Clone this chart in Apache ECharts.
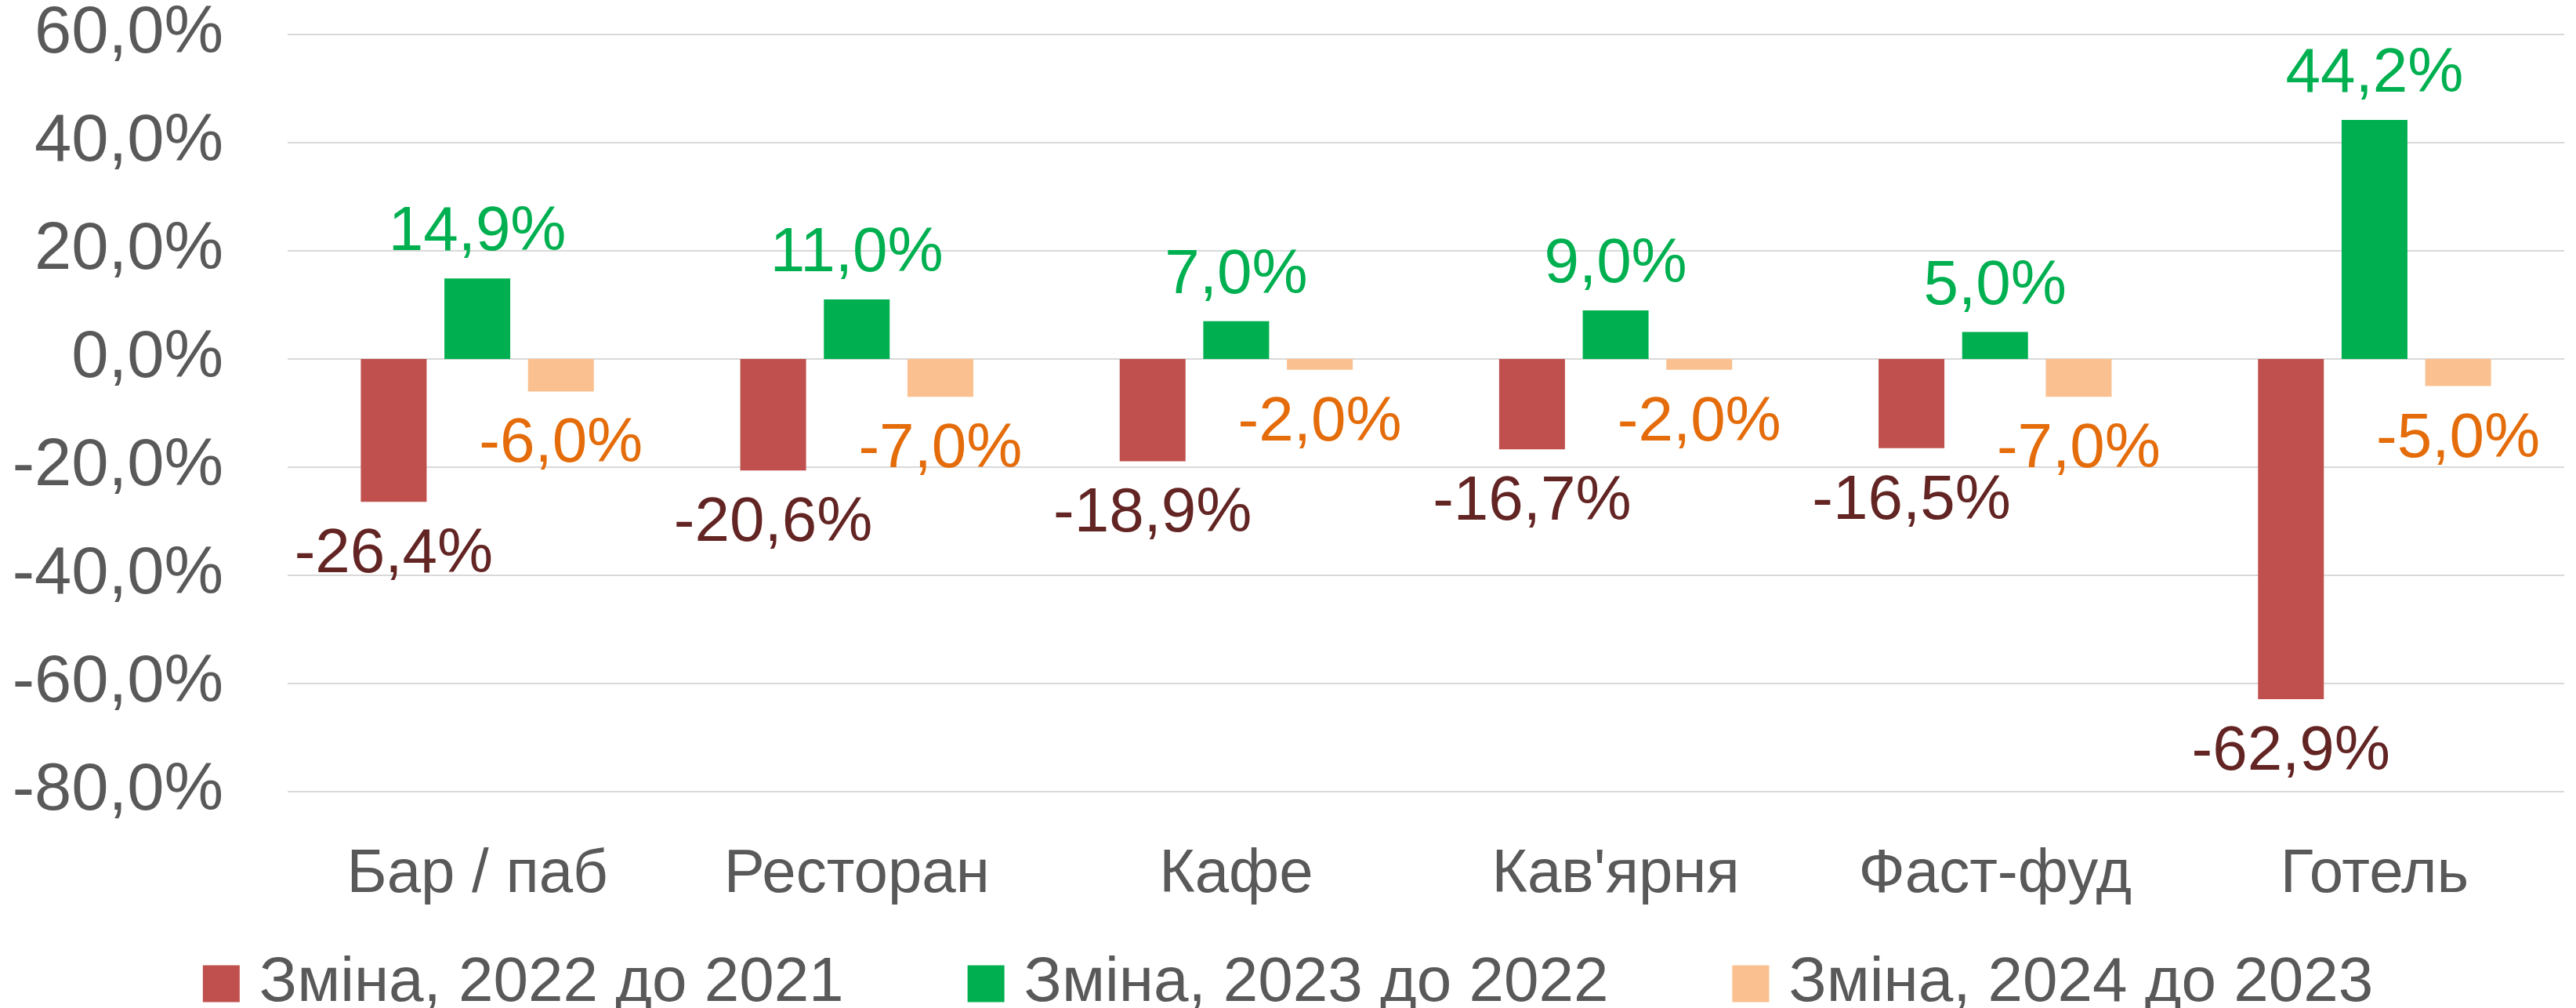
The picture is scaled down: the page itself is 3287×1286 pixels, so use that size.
<!DOCTYPE html>
<html>
<head>
<meta charset="utf-8">
<title>Зміна</title>
<script src="https://cdn.jsdelivr.net/npm/echarts@6/dist/echarts.min.js"></script>
<style>
  html, body { margin: 0; padding: 0; background: #fff; }
  #chart { width: 3287px; height: 1286px; }
</style>
</head>
<body>
<div id="chart"></div>
<script>
// категорії та ряди
var categories = ['Бар / паб', 'Ресторан', 'Кафе', "Кав'ярня", 'Фаст-фуд', 'Готель'];
var seriesNames = ['Зміна, 2022 до 2021', 'Зміна, 2023 до 2022', 'Зміна, 2024 до 2023'];
var change2022 = [-26.4, -20.6, -18.9, -16.7, -16.5, -62.9];
var change2023 = [14.9, 11.0, 7.0, 9.0, 5.0, 44.2];
var change2024 = [-6.0, -7.0, -2.0, -2.0, -7.0, -5.0];
var yTicks = [-80, -60, -40, -20, 0, 20, 40, 60];

var barColors = ['#C0504D', '#00B050', '#FAC090'];
var labelColors = ['#632523', '#00B050', '#E46C0A'];
var font = '"Liberation Sans", Arial, sans-serif';

function pct(v) {
    return v.toFixed(1).replace('.', ',') + '%';
}

// позиція підпису залежить від знаку
function withLabels(values) {
    return values.map(function (v) {
        return {
            value: v,
            label: v < 0 ? { position: 'bottom', distance: 28 } : { position: 'top', distance: 18 }
        };
    });
}

function makeSeries(idx, values) {
    return {
        name: seriesNames[idx],
        type: 'bar',
        barWidth: 84,
        barGap: '27%',
        data: withLabels(values),
        itemStyle: { color: barColors[idx] },
        label: {
            show: true,
            color: labelColors[idx],
            fontSize: 80,
            fontFamily: font,
            formatter: function (p) { return pct(p.value); }
        },
        emphasis: { disabled: true }
    };
}

var chart = echarts.init(document.getElementById('chart'));
var option = {
    backgroundColor: '#fff',
    animation: false,
    grid: { left: 367, right: 15, top: 44, bottom: 276, containLabel: false },
    legend: {
        data: seriesNames,
        left: 'center',
        top: 1215,
        padding: 0,
        icon: 'rect',
        itemWidth: 47,
        itemHeight: 47,
        itemGap: 158,
        textStyle: {
            color: '#595959',
            fontSize: 80,
            fontFamily: font,
            padding: [0, 0, 0, 20]
        }
    },
    xAxis: {
        type: 'category',
        data: categories,
        position: 'bottom',
        axisLine: { show: false, onZero: false },
        axisTick: { show: false },
        axisLabel: {
            color: '#595959',
            fontSize: 78,
            fontFamily: font,
            margin: 67,
            interval: 0
        }
    },
    yAxis: {
        type: 'value',
        min: yTicks[0],
        max: yTicks[yTicks.length - 1],
        interval: 20,
        axisLine: { show: false },
        axisTick: { show: false },
        splitLine: { lineStyle: { color: '#D9D9D9', width: 2 } },
        axisLabel: {
            color: '#595959',
            fontSize: 85,
            fontFamily: font,
            margin: 82,
            formatter: function (v) { return pct(v); }
        }
    },
    series: [
        makeSeries(0, change2022),
        makeSeries(1, change2023),
        makeSeries(2, change2024)
    ]
};
chart.setOption(option);
</script>
</body>
</html>
